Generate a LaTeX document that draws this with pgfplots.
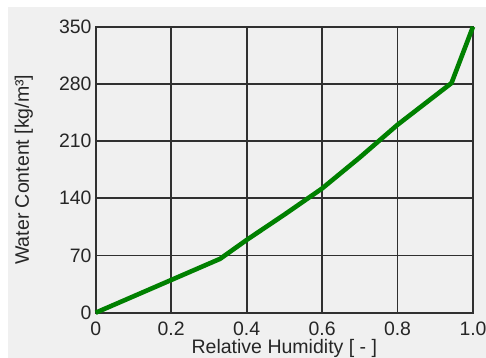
\documentclass[border=0pt]{standalone}
\usepackage{fontspec}
\setmainfont{Liberation Sans}
\usepackage{pgfplots}
\pgfplotsset{compat=1.18}
\definecolor{panelgray}{HTML}{F0F0F0}
\definecolor{gridgray}{HTML}{303030}
\definecolor{curvegreen}{RGB}{0,128,0}
\begin{document}
\begin{tikzpicture}
% window background
\fill[white] (0,0) rectangle (486bp,358bp);
\fill[panelgray] (8bp,0) rectangle (486bp,351bp);
\useasboundingbox (0,0) rectangle (486bp,358bp);
\begin{axis}[
  at={(95.7bp,45.3bp)}, anchor=south west,
  scale only axis,
  width=377.3bp, height=286bp,
  xmin=0, xmax=1, ymin=0, ymax=350,
  xtick={0,0.2,0.4,0.6,0.8,1.0},
  xticklabels={0,0.2,0.4,0.6,0.8,1.0},
  ytick={0,70,140,210,280,350},
  yticklabels={0,70,140,210,280,350},
  major tick length=0pt,
  grid=major,
  major grid style={gridgray, line width=1.8bp},
  axis line style={gridgray, line width=1.8bp},
  axis background/.style={fill=panelgray},
  tick label style={font=\fontsize{19.5}{22}\selectfont, text=black!85},
  yticklabel style={anchor=east, inner sep=0pt, xshift=-4bp},
  xticklabel style={anchor=north, inner sep=0pt, yshift=-9bp},
  label style={font=\fontsize{19.6}{22}\selectfont, text=black!85},
  xlabel={Relative Humidity [ - ]},
  xlabel style={at={(axis description cs:0.5,0)}, anchor=base, inner sep=0pt, yshift=-41bp},
  ylabel={Water Content [kg/m³]},
  ylabel style={at={(axis description cs:-0.1908,0.5)}, anchor=center, inner sep=0pt},
  clip=false,
]
\addplot[curvegreen, line width=4.6bp] coordinates {
  (0,0) (0.1,20) (0.2,40) (0.33,66) (0.4,89) (0.5,120) (0.6,152)
  (0.7,190) (0.8,230) (0.943,281) (1.0,350)
};
\end{axis}
\end{tikzpicture}
\end{document}
